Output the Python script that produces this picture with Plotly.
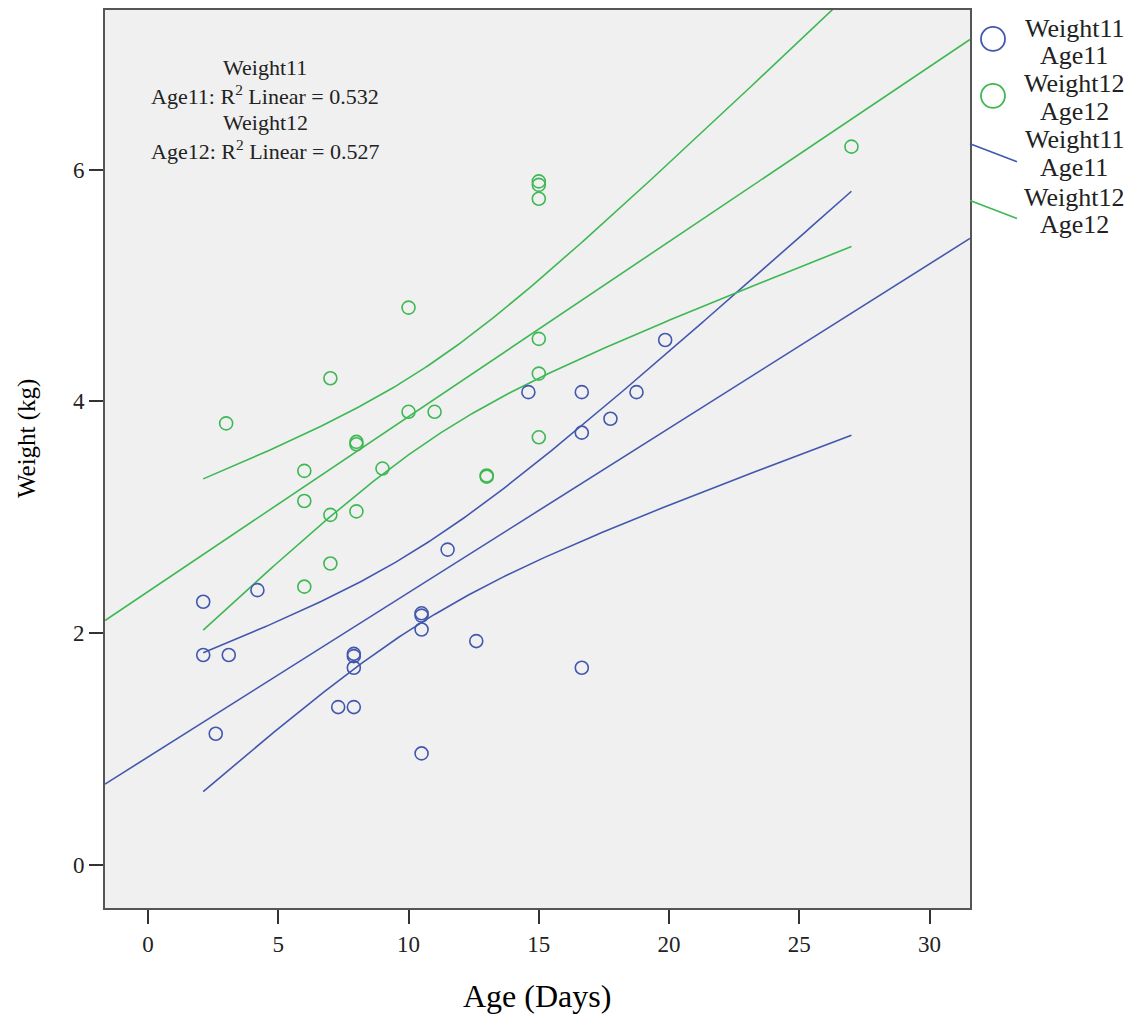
import numpy as np
import plotly.graph_objects as go

# ---- data ----
age11 = [2.12, 2.12, 3.1, 2.6, 4.2, 7.3, 7.9, 7.9, 7.9, 7.9, 10.5, 10.5, 10.5, 10.5,
         11.5, 12.6, 14.6, 16.65, 16.65, 16.65, 17.75, 18.75, 19.85]
weight11 = [2.27, 1.81, 1.81, 1.13, 2.37, 1.36, 1.36, 1.80, 1.82, 1.70, 2.15, 2.17, 2.03, 0.96,
            2.72, 1.93, 4.08, 4.08, 3.73, 1.70, 3.85, 4.08, 4.53]
age12 = [3, 6, 6, 6, 7, 7, 7, 8, 8, 8, 9, 10, 10, 11, 13, 13, 15, 15, 15, 15, 15, 15, 27]
weight12 = [3.81, 3.40, 3.14, 2.40, 4.20, 3.02, 2.60, 3.63, 3.65, 3.05, 3.42, 4.81, 3.91, 3.91,
            3.35, 3.36, 5.90, 5.87, 5.75, 4.54, 4.24, 3.69, 6.20]

x_ticks = [0, 5, 10, 15, 20, 25, 30]
y_ticks = [0, 2, 4, 6]
x_range = [-1.65, 31.55]
y_range = [-0.375, 7.38]

r2_lines = ["Weight11", "Age11: R<sup>2</sup> Linear = 0.532",
            "Weight12", "Age12: R<sup>2</sup> Linear = 0.527"]
legend_lines = ["Weight11", "Age11", "Weight12", "Age12",
                "Weight11", "Age11", "Weight12", "Age12"]

BLUE = "#4257AE"
GREEN = "#3DB853"
FONT = "Liberation Serif"


def t975(df):
    z = 1.959964
    return (z + (z**3 + z) / (4 * df) + (5 * z**5 + 16 * z**3 + 3 * z) / (96 * df**2)
            + (3 * z**7 + 19 * z**5 + 17 * z**3 - 15 * z) / (384 * df**3))


def fit(x, y, xs_line, xs_band):
    x = np.asarray(x, float)
    y = np.asarray(y, float)
    n = len(x)
    b, a = np.polyfit(x, y, 1)
    res = y - (a + b * x)
    s = np.sqrt(np.sum(res**2) / (n - 2))
    sxx = np.sum((x - x.mean())**2)
    yl = a + b * xs_line
    yb = a + b * xs_band
    hw = t975(n - 2) * s * np.sqrt(1 / n + (xs_band - x.mean())**2 / sxx)
    return yl, yb - hw, yb + hw


all_x = np.array(age11 + age12, float)
xs_line = np.linspace(x_range[0], x_range[1], 50)
xs_band = np.linspace(all_x.min(), all_x.max(), 200)

fig = go.Figure()

for ax, wy, col in [(age11, weight11, BLUE), (age12, weight12, GREEN)]:
    yl, lo, hi = fit(ax, wy, xs_line, xs_band)
    for yy, xx in [(yl, xs_line), (lo, xs_band), (hi, xs_band)]:
        fig.add_trace(go.Scatter(x=xx, y=yy, mode="lines",
                                 line=dict(color=col, width=1.6), hoverinfo="skip"))

for ax, wy, col in [(age11, weight11, BLUE), (age12, weight12, GREEN)]:
    fig.add_trace(go.Scatter(x=ax, y=wy, mode="markers",
                             marker=dict(symbol="circle-open", size=13,
                                         color=col, line=dict(color=col, width=1.6))))

# page has an 8px body margin: figure coords = page coords - 8
OFF = 8
W, H = 1134, 1015
L, T = 105 - OFF, 8 - OFF
R = W - (970 - OFF)
B = H - (908 - OFF)
pw, ph = W - L - R, H - T - B


def px(xp):  # page pixel -> paper
    return (xp - OFF - L) / pw


def py(yp):
    return (H - B - (yp - OFF)) / ph


axis_common = dict(showgrid=False, zeroline=False, showline=True, mirror=True,
                   linecolor="#555555", linewidth=2, ticks="outside", ticklen=14,
                   tickwidth=1.5, tickcolor="#333333",
                   tickfont=dict(family=FONT, size=23, color="#222222"))

fig.update_layout(
    width=W, height=H,
    margin=dict(l=L, r=R, t=T, b=B, pad=0),
    paper_bgcolor="white",
    plot_bgcolor="#F0F0F0",
    showlegend=False,
    xaxis=dict(range=x_range, tickvals=x_ticks, **axis_common),
    yaxis=dict(range=y_range, tickvals=y_ticks, **axis_common),
)

annotations = [
    dict(text="Age (Days)", x=px(537), y=py(996), xref="paper", yref="paper",
         xanchor="center", yanchor="middle",
         showarrow=False, font=dict(family=FONT, size=32, color="black")),
    dict(text="Weight (kg)", x=px(27), y=py(438), xref="paper", yref="paper",
         xanchor="center", yanchor="middle",
         showarrow=False, textangle=-90, font=dict(family=FONT, size=25, color="black")),
]
for txt, yy in zip(r2_lines, [66, 93, 121, 148]):
    annotations.append(dict(text=txt, x=px(265), y=py(yy), xref="paper", yref="paper",
                            xanchor="center", yanchor="middle", showarrow=False,
                            font=dict(family=FONT, size=22, color="#222222")))

for txt, yy in zip(legend_lines, [27, 54, 82, 110, 138, 166, 196, 223]):
    annotations.append(dict(text=txt, x=px(1074), y=py(yy), xref="paper", yref="paper",
                            showarrow=False, xanchor="center", yanchor="middle",
                            font=dict(family=FONT, size=26, color="#222222")))
fig.update_layout(annotations=annotations)

shapes = []
for cy, col in [(37, BLUE), (94, GREEN)]:
    shapes.append(dict(type="circle", xref="paper", yref="paper",
                       xsizemode="pixel", ysizemode="pixel",
                       xanchor=px(993), yanchor=py(cy),
                       x0=-12, x1=12, y0=-12, y1=12,
                       line=dict(color=col, width=1.8)))
for (y0, y1), col in [((142, 160), BLUE), ((199, 217), GREEN)]:
    shapes.append(dict(type="line", xref="paper", yref="paper",
                       x0=px(970), x1=px(1017), y0=py(y0), y1=py(y1),
                       line=dict(color=col, width=1.6)))
fig.update_layout(shapes=shapes)

fig.write_html("out.html")
